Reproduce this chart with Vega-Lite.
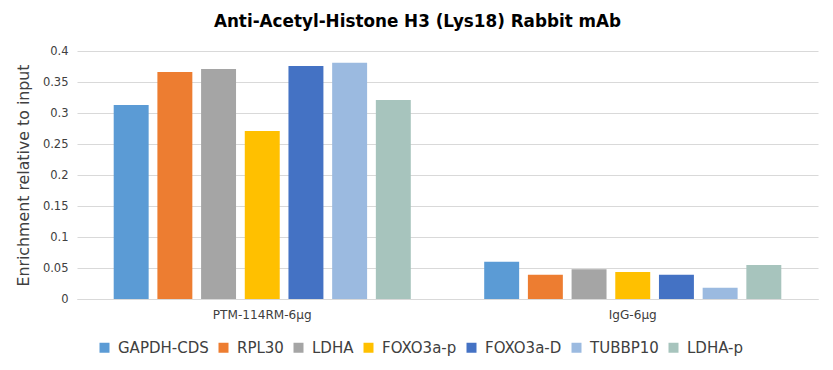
{
  "$schema": "https://vega.github.io/schema/vega-lite/v6.json",
  "width": 741,
  "height": 248,
  "autosize": {"type": "none"},
  "padding": {"left": 77, "top": 51, "right": 15, "bottom": 71},
  "background": "white",
  "title": {
    "text": "Anti-Acetyl-Histone H3 (Lys18) Rabbit mAb",
    "font": "DejaVu Sans",
    "fontSize": 16.8,
    "fontWeight": "bold",
    "color": "#000000",
    "anchor": "middle",
    "dx": -30,
    "offset": 14
  },
  "data": {
    "values": [
      {"group": "PTM-114RM-6μg", "target": "GAPDH-CDS", "value": 0.313},
      {"group": "PTM-114RM-6μg", "target": "RPL30", "value": 0.366},
      {"group": "PTM-114RM-6μg", "target": "LDHA", "value": 0.371},
      {"group": "PTM-114RM-6μg", "target": "FOXO3a-p", "value": 0.271},
      {"group": "PTM-114RM-6μg", "target": "FOXO3a-D", "value": 0.376},
      {"group": "PTM-114RM-6μg", "target": "TUBBP10", "value": 0.381},
      {"group": "PTM-114RM-6μg", "target": "LDHA-p", "value": 0.321},
      {"group": "IgG-6μg", "target": "GAPDH-CDS", "value": 0.06},
      {"group": "IgG-6μg", "target": "RPL30", "value": 0.039},
      {"group": "IgG-6μg", "target": "LDHA", "value": 0.048},
      {"group": "IgG-6μg", "target": "FOXO3a-p", "value": 0.0435},
      {"group": "IgG-6μg", "target": "FOXO3a-D", "value": 0.039},
      {"group": "IgG-6μg", "target": "TUBBP10", "value": 0.018},
      {"group": "IgG-6μg", "target": "LDHA-p", "value": 0.055}
    ]
  },
  "mark": {"type": "bar"},
  "encoding": {
    "x": {
      "field": "group",
      "type": "nominal",
      "sort": ["PTM-114RM-6μg", "IgG-6μg"],
      "scale": {"paddingInner": 0, "paddingOuter": 0},
      "axis": {
        "title": null,
        "labelAngle": 0,
        "labelFont": "DejaVu Sans",
        "labelFontSize": 12.1,
        "labelColor": "#404040",
        "labelPadding": 9,
        "ticks": false,
        "domainColor": "#d9d9d9",
        "grid": false
      }
    },
    "xOffset": {
      "field": "target",
      "type": "nominal",
      "sort": ["GAPDH-CDS", "RPL30", "LDHA", "FOXO3a-p", "FOXO3a-D", "TUBBP10", "LDHA-p"],
      "scale": {"paddingInner": 0.2, "paddingOuter": 0.84}
    },
    "y": {
      "field": "value",
      "type": "quantitative",
      "scale": {"domain": [0, 0.4], "nice": false},
      "axis": {
        "title": "Enrichment relative to input",
        "titleFont": "DejaVu Sans",
        "titleFontSize": 15.8,
        "titleFontWeight": "normal",
        "titleColor": "#404040",
        "titlePadding": 11,
        "values": [0, 0.05, 0.1, 0.15, 0.2, 0.25, 0.3, 0.35, 0.4],
        "format": "~g",
        "labelFont": "DejaVu Sans",
        "labelFontSize": 11.5,
        "labelColor": "#404040",
        "labelPadding": 9,
        "ticks": false,
        "domain": false,
        "gridColor": "#d9d9d9"
      }
    },
    "color": {
      "field": "target",
      "type": "nominal",
      "sort": ["GAPDH-CDS", "RPL30", "LDHA", "FOXO3a-p", "FOXO3a-D", "TUBBP10", "LDHA-p"],
      "scale": {
        "domain": ["GAPDH-CDS", "RPL30", "LDHA", "FOXO3a-p", "FOXO3a-D", "TUBBP10", "LDHA-p"],
        "range": ["#5B9BD5", "#ED7D31", "#A5A5A5", "#FFC000", "#4472C4", "#9BBAE0", "#A7C4BD"]
      },
      "legend": {
        "title": null,
        "orient": "none",
        "direction": "horizontal",
        "legendX": 20,
        "legendY": 289,
        "columns": 7,
        "symbolType": "square",
        "symbolSize": 100,
        "symbolStrokeWidth": 0,
        "labelFont": "DejaVu Sans",
        "labelFontSize": 15,
        "labelColor": "#404040",
        "labelOffset": 6,
        "columnPadding": 7
      }
    }
  },
  "config": {
    "view": {"stroke": null}
  }
}
